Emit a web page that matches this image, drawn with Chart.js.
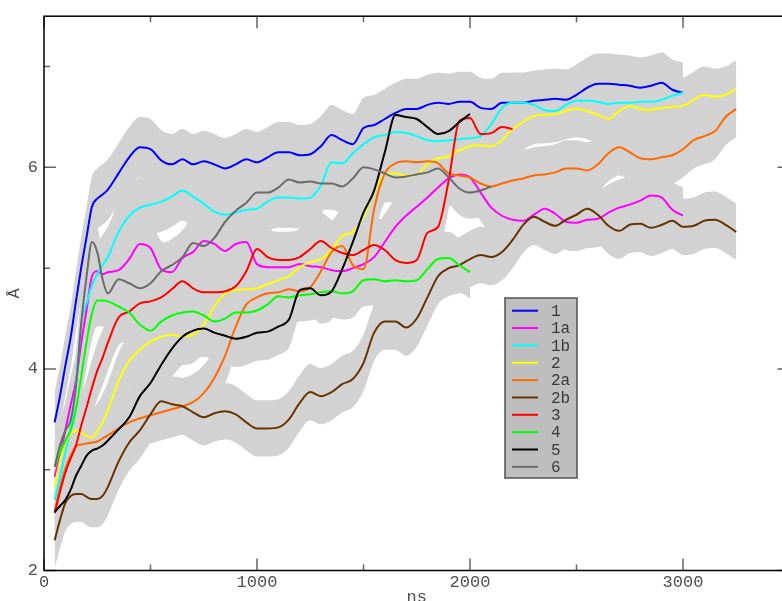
<!DOCTYPE html>
<html>
<head>
<meta charset="utf-8">
<script src="https://cdn.jsdelivr.net/npm/chart.js@4.4.1/dist/chart.umd.min.js"></script>
<style>
    html, body { margin: 0; padding: 0; overflow: hidden; background: #fff; }
    #wrap { position: absolute; left: 0; top: 0; width: 800px; height: 612px; }
</style>
</head>
<body>
<div id="wrap"><canvas id="distChart" width="800" height="612"></canvas></div>
<script>
// time axis (ns) shared by all the smoothed curves
var time = [50, 75, 100, 125, 150, 175, 200, 225, 250, 275, 300,
    350, 400, 450, 500, 550, 600, 650, 700, 750, 800, 850, 900, 950, 1000,
    1050, 1100, 1150, 1200, 1250, 1300, 1350, 1400, 1450, 1500,
    1550, 1600, 1650, 1700, 1750, 1800, 1850, 1900, 1950, 2000,
    2050, 2100, 2150, 2200, 2250, 2300, 2350, 2400, 2450, 2500,
    2550, 2600, 2650, 2700, 2750, 2800, 2850, 2900, 2950, 3000,
    3050, 3100, 3150, 3200, 3250];

var seriesLabels = ['1', '1a', '1b', '2', '2a', '2b', '3', '4', '5', '6'];
var seriesColors = ['#0000ff', '#ff00ff', '#00ffff', '#ffff00', '#ff6a00',
    '#663300', '#ff0000', '#00ff00', '#000000', '#6b6b6b'];

// distances in angstrom
var s1 = [3.47, 3.73, 4.03, 4.31, 4.67, 5.01, 5.31, 5.61, 5.69, 5.73, 5.78,
    5.94, 6.10, 6.20, 6.18, 6.07, 6.03, 6.08, 6.03, 6.06, 6.03, 5.99, 6.03, 6.08, 6.05,
    6.10, 6.15, 6.15, 6.12, 6.13, 6.21, 6.32, 6.27, 6.23, 6.39,
    6.42, 6.48, 6.54, 6.58, 6.58, 6.62, 6.64, 6.63, 6.65, 6.65,
    6.59, 6.58, 6.64, 6.64, 6.64, 6.66, 6.67, 6.68, 6.67, 6.72,
    6.79, 6.83, 6.83, 6.82, 6.81, 6.79, 6.81, 6.84, 6.77, 6.74];
var s1a = [2.93, 3.14, 3.39, 3.64, 3.88, 4.26, 4.59, 4.92, 4.97, 4.94, 4.96,
    4.98, 5.09, 5.24, 5.20, 4.99, 4.96, 5.10, 5.16, 5.27, 5.24, 5.17, 5.24, 5.26, 5.04,
    5.01, 5.01, 5.01, 5.04, 5.02, 5.01, 4.98, 4.97, 5.00, 5.04,
    5.11, 5.26, 5.41, 5.52, 5.61, 5.70, 5.80, 5.89, 5.93, 5.90,
    5.75, 5.60, 5.52, 5.48, 5.47, 5.53, 5.59, 5.54, 5.46, 5.45,
    5.48, 5.49, 5.55, 5.60, 5.63, 5.67, 5.72, 5.70, 5.58, 5.52];
var s1b = [2.70, 2.92, 3.17, 3.41, 3.83, 4.45, 4.65, 4.83, 4.94, 5.03, 5.11,
    5.36, 5.52, 5.60, 5.63, 5.66, 5.71, 5.77, 5.71, 5.64, 5.56, 5.53, 5.55, 5.58, 5.59,
    5.66, 5.70, 5.70, 5.69, 5.70, 5.82, 6.05, 6.04, 6.14, 6.23,
    6.30, 6.32, 6.35, 6.34, 6.31, 6.27, 6.26, 6.27, 6.28, 6.29,
    6.31, 6.43, 6.59, 6.64, 6.64, 6.62, 6.57, 6.56, 6.62, 6.66,
    6.66, 6.65, 6.63, 6.64, 6.64, 6.65, 6.65, 6.67, 6.71, 6.74];
var s2 = [2.83, 3.09, 3.26, 3.36, 3.39, 3.37, 3.33, 3.32, 3.38, 3.47, 3.59,
    3.88, 4.08, 4.19, 4.27, 4.32, 4.34, 4.32, 4.34, 4.44, 4.62, 4.75, 4.78, 4.79, 4.80,
    4.84, 4.88, 4.92, 5.01, 5.06, 5.09, 5.18, 5.32, 5.36, 5.51,
    5.75, 5.93, 5.94, 5.92, 5.93, 6.03, 6.09, 6.11, 6.17, 6.21,
    6.22, 6.21, 6.27, 6.38, 6.45, 6.51, 6.52, 6.53, 6.56, 6.58,
    6.56, 6.52, 6.48, 6.56, 6.61, 6.58, 6.57, 6.59, 6.60, 6.61,
    6.67, 6.72, 6.70, 6.72, 6.78];
var s2a = [2.58, 2.82, 3.01, 3.14, 3.23, 3.25, 3.26, 3.27, 3.28, 3.31, 3.34,
    3.41, 3.47, 3.51, 3.54, 3.57, 3.60, 3.63, 3.67, 3.76, 3.91, 4.13, 4.42, 4.64, 4.71,
    4.75, 4.76, 4.79, 4.77, 4.81, 4.97, 5.16, 5.22, 5.03, 4.99,
    5.59, 5.94, 6.04, 6.06, 6.05, 6.06, 6.04, 5.94, 5.92, 5.90,
    5.84, 5.81, 5.84, 5.87, 5.89, 5.92, 5.93, 5.95, 5.99, 5.99,
    5.97, 6.03, 6.14, 6.20, 6.15, 6.09, 6.08, 6.10, 6.12, 6.18,
    6.27, 6.31, 6.36, 6.50, 6.58];
var s2b = [2.30, 2.50, 2.67, 2.74, 2.76, 2.76, 2.73, 2.71, 2.71, 2.74, 2.83,
    3.08, 3.27, 3.39, 3.55, 3.68, 3.65, 3.63, 3.57, 3.52, 3.56, 3.58, 3.55, 3.47, 3.41,
    3.41, 3.42, 3.50, 3.66, 3.77, 3.73, 3.77, 3.85, 3.90, 4.06,
    4.36, 4.47, 4.47, 4.41, 4.50, 4.71, 4.92, 5.00, 5.03, 5.09,
    5.13, 5.11, 5.16, 5.28, 5.43, 5.51, 5.46, 5.42, 5.48, 5.53,
    5.59, 5.53, 5.42, 5.37, 5.43, 5.44, 5.40, 5.43, 5.47, 5.41,
    5.42, 5.47, 5.48, 5.43, 5.36];
var s3 = [2.57, 2.78, 2.97, 3.11, 3.24, 3.44, 3.62, 3.81, 3.98, 4.11, 4.26,
    4.51, 4.57, 4.65, 4.67, 4.71, 4.79, 4.87, 4.80, 4.76, 4.76, 4.77, 4.82, 4.97, 5.19,
    5.11, 5.08, 5.08, 5.11, 5.19, 5.27, 5.20, 5.15, 5.13, 5.18,
    5.23, 5.18, 5.08, 5.05, 5.08, 5.35, 5.41, 5.87, 6.46, 6.49,
    6.33, 6.34, 6.40, 6.38];
var s4 = [3.03, 3.17, 3.29, 3.39, 3.60, 3.93, 4.27, 4.55, 4.68, 4.68, 4.67,
    4.62, 4.56, 4.44, 4.38, 4.47, 4.53, 4.56, 4.57, 4.53, 4.47, 4.50, 4.56, 4.56, 4.58,
    4.64, 4.72, 4.71, 4.73, 4.74, 4.76, 4.77, 4.75, 4.77, 4.88,
    4.89, 4.87, 4.88, 4.87, 4.88, 4.99, 5.09, 5.10, 5.03, 4.96];
var s5 = [2.58, 2.64, 2.70, 2.80, 2.94, 3.04, 3.14, 3.19, 3.21, 3.24, 3.29,
    3.40, 3.52, 3.73, 3.86, 4.04, 4.20, 4.32, 4.38, 4.40, 4.36, 4.33, 4.30, 4.32, 4.36,
    4.37, 4.42, 4.49, 4.78, 4.80, 4.73, 4.77, 4.99, 5.26, 5.55,
    5.77, 6.15, 6.52, 6.50, 6.48, 6.40, 6.33, 6.36, 6.45, 6.53];
var s6 = [3.03, 3.24, 3.39, 3.49, 3.83, 4.46, 4.92, 5.26, 5.16, 4.89, 4.75,
    4.89, 4.85, 4.80, 4.85, 4.97, 5.03, 5.11, 5.25, 5.22, 5.30, 5.46, 5.57, 5.65, 5.75,
    5.75, 5.80, 5.88, 5.85, 5.86, 5.84, 5.84, 5.81, 5.89, 6.00,
    5.98, 5.94, 5.90, 5.91, 5.93, 5.95, 5.99, 5.90, 5.79, 5.75,
    5.77, 5.81];

// half-width of the raw (unsmoothed) grey trace around each curve
var noise = [0.30, 0.28, 0.30, 0.28, 0.28, 0.28, 0.28, 0.26, 0.28, 0.26];

var xMajor = [0, 1000, 2000, 3000];
var xMinor = [500, 1500, 2500];
var yMajor = [2, 4, 6];
var yMinor = [3, 5, 7];

var series = [s1, s1a, s1b, s2, s2a, s2b, s3, s4, s5, s6];

function toPoints(vals, shift) {
    return vals.map(function (v, i) { return { x: time[i], y: v + shift }; });
}

var datasets = [];
// raw data bands first (drawn underneath)
series.forEach(function (vals, k) {
    datasets.push({
        data: toPoints(vals, noise[k]),
        borderWidth: 0,
        pointRadius: 0,
        backgroundColor: '#d2d2d2',
        fill: '+1',
        cubicInterpolationMode: 'monotone',
        order: 50
    });
    datasets.push({
        data: toPoints(vals, -noise[k]),
        borderWidth: 0,
        pointRadius: 0,
        fill: false,
        cubicInterpolationMode: 'monotone',
        order: 50
    });
});
// smoothed curves
series.forEach(function (vals, k) {
    datasets.push({
        label: seriesLabels[k],
        data: toPoints(vals, 0),
        borderColor: seriesColors[k],
        borderWidth: 2,
        pointRadius: 0,
        fill: false,
        cubicInterpolationMode: 'monotone',
        order: 20 - k
    });
});

var monoFont = { family: '"Liberation Mono", "DejaVu Sans Mono", monospace', size: 17 };

// frame, inward ticks and the boxed legend
var frameLegend = {
    id: 'frameLegend',
    afterDraw: function (chart) {
        var ctx = chart.ctx;
        var a = chart.chartArea;
        var xs = chart.scales.x;
        var ys = chart.scales.y;
        ctx.save();

        ctx.strokeStyle = '#666';
        ctx.lineWidth = 1.5;
        function xTicks(vals, len) {
            vals.forEach(function (v) {
                var px = xs.getPixelForValue(v);
                ctx.beginPath();
                ctx.moveTo(px, a.bottom); ctx.lineTo(px, a.bottom - len);
                ctx.moveTo(px, a.top); ctx.lineTo(px, a.top + len);
                ctx.stroke();
            });
        }
        function yTicks(vals, len) {
            vals.forEach(function (v) {
                var py = ys.getPixelForValue(v);
                ctx.beginPath();
                ctx.moveTo(a.left, py); ctx.lineTo(a.left + len, py);
                ctx.moveTo(a.right, py); ctx.lineTo(a.right - len, py);
                ctx.stroke();
            });
        }
        xTicks(xMajor, 12);
        xTicks(xMinor, 6);
        yTicks(yMajor, 12);
        yTicks(yMinor, 6);

        ctx.strokeStyle = '#000';
        ctx.lineWidth = 1.5;
        ctx.strokeRect(a.left, a.top, a.right - a.left, a.bottom - a.top);

        // legend box
        var bx = 505, by = 298, bw = 72, bh = 180, row = 17.35;
        ctx.fillStyle = '#bebebe';
        ctx.fillRect(bx, by, bw, bh);
        ctx.strokeStyle = '#505050';
        ctx.lineWidth = 1.5;
        ctx.strokeRect(bx, by, bw, bh);
        ctx.font = '16px "Liberation Mono", "DejaVu Sans Mono", monospace';
        ctx.textBaseline = 'middle';
        ctx.textAlign = 'left';
        seriesLabels.forEach(function (lab, k) {
            var ry = by + 12.7 + k * row;
            ctx.strokeStyle = seriesColors[k];
            ctx.lineWidth = 2;
            ctx.beginPath();
            ctx.moveTo(512, ry); ctx.lineTo(538, ry);
            ctx.stroke();
            ctx.fillStyle = '#3a3a3a';
            ctx.fillText(lab, 551, ry + 1);
        });
        ctx.restore();
    }
};

function plainLabel(v) { return String(v); }

var ctx = document.getElementById('distChart').getContext('2d');
var distChart = new Chart(ctx, {
    type: 'line',
    data: { datasets: datasets },
    options: {
        responsive: false,
        animation: false,
        layout: { padding: { left: 0, top: 14, right: 10.5, bottom: 0 } },
        plugins: {
            legend: { display: false },
            tooltip: { enabled: false }
        },
        scales: {
            x: {
                type: 'linear',
                min: 0,
                max: 3500,
                grid: { display: false, drawTicks: false },
                border: { display: false },
                ticks: { padding: 2, color: '#505050', font: monoFont, maxRotation: 0, autoSkip: false, callback: plainLabel },
                title: { display: true, text: 'ns', color: '#505050', font: monoFont },
                afterBuildTicks: function (s) { s.ticks = xMajor.map(function (v) { return { value: v }; }); },
                afterFit: function (s) { s.height = 41.5; }
            },
            y: {
                type: 'linear',
                min: 2,
                max: 7.5,
                grid: { display: false, drawTicks: false },
                border: { display: false },
                ticks: { padding: 6, color: '#505050', font: monoFont, autoSkip: false, callback: plainLabel },
                title: { display: true, text: 'Å', color: '#505050', font: monoFont },
                afterBuildTicks: function (s) { s.ticks = yMajor.map(function (v) { return { value: v }; }); },
                afterFit: function (s) { s.width = 44; }
            }
        }
    },
    plugins: [frameLegend]
});
</script>
</body>
</html>
